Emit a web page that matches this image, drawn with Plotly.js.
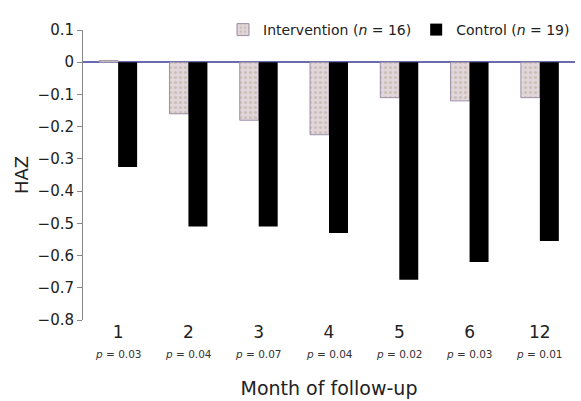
<!DOCTYPE html>
<html>
<head>
<meta charset="utf-8">
<script src="https://cdn.plot.ly/plotly-3.0.1.min.js"></script>
<style>html,body{margin:0;padding:0;background:#fff;}#chart{width:581px;height:401px;}</style>
</head>
<body>
<div id="chart"></div>
<script>
var months = ['1', '2', '3', '4', '5', '6', '12'];
var pValues = ['0.03', '0.04', '0.07', '0.04', '0.02', '0.03', '0.01'];
var intervention = [0.005, -0.16, -0.18, -0.225, -0.11, -0.12, -0.11];
var control = [-0.325, -0.51, -0.51, -0.53, -0.675, -0.62, -0.555];
var yTicks = [0.1, 0, -0.1, -0.2, -0.3, -0.4, -0.5, -0.6, -0.7, -0.8];

var FONT = 'DejaVu Sans, Verdana, sans-serif';

var traces = [
  {
    type: 'bar', x: months, y: intervention,
    name: 'Intervention (<i>n</i> = 16)',
    marker: {color: '#dcd2d4', line: {color: '#9c8fa8', width: 1},
             pattern: {shape: '.', fgcolor: '#c9c0b8', bgcolor: '#e2d6da', size: 5, solidity: 0.3}}
  },
  {
    type: 'bar', x: months, y: control,
    name: 'Control (<i>n</i> = 19)',
    marker: {color: '#000000', line: {width: 0}}
  }
];

var annotations = months.map(function (m, i) {
  return {
    x: i, xref: 'x', y: 0, yref: 'paper', yanchor: 'top',
    yshift: -26, showarrow: false,
    text: '<i>p</i> = ' + pValues[i],
    font: {size: 10.5, color: '#333', family: FONT}
  };
});

var layout = {
  width: 581, height: 401,
  margin: {l: 83, r: 6, t: 30, b: 81},
  paper_bgcolor: '#fff', plot_bgcolor: '#fff',
  font: {family: FONT, color: '#222'},
  barmode: 'group', bargap: 0.46, bargroupgap: 0,
  showlegend: true,
  legend: {orientation: 'h', x: 1.0, xanchor: 'right', y: 1.0, yanchor: 'middle',
           font: {size: 14, color: '#222', family: FONT}, bgcolor: 'rgba(0,0,0,0)',
           traceorder: 'normal', itemwidth: 30},
  xaxis: {
    type: 'category', range: [-0.5, 6.5],
    showline: false, ticks: '', showgrid: false, zeroline: false,
    tickfont: {size: 17, color: '#222'}, ticklabelstandoff: 0,
    title: {text: 'Month of follow-up', font: {size: 19, color: '#222'}, standoff: 40}
  },
  yaxis: {
    range: [-0.8, 0.1], tickvals: yTicks,
    ticktext: yTicks.map(function (v) { return v === 0 ? '0' : (v < 0 ? '\u2212' + Math.abs(v).toFixed(1) : v.toFixed(1)); }),
    showline: true, linecolor: '#888', linewidth: 1,
    ticks: 'outside', ticklen: 5, tickcolor: '#888', tickwidth: 1,
    showgrid: false, zeroline: true, zerolinecolor: '#6a6ab0', zerolinewidth: 1.5,
    tickfont: {size: 15, color: '#222'},
    title: {text: 'HAZ', font: {size: 18, color: '#222'}, standoff: 4}
  },
  annotations: annotations
};

Plotly.newPlot('chart', traces, layout, {displayModeBar: false, staticPlot: true});
</script>
</body>
</html>
